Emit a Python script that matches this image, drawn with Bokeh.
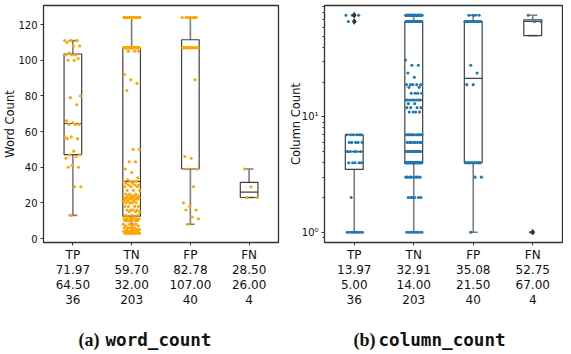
import numpy as np
from bokeh.plotting import figure
from bokeh.layouts import row, column
from bokeh.models import Range1d, FixedTicker
from bokeh.core.properties import value
from bokeh.embed import file_html
from bokeh.resources import INLINE

cats = ["TP", "TN", "FP", "FN"]

# ---------------- word_count data ----------------
word_tp = [13, 29, 29, 40, 40, 41, 45, 46, 47, 47, 49, 56, 56, 57, 57, 64, 64, 64,
           65, 66, 75, 79, 80, 100, 100, 101, 103, 103, 103, 104, 108, 108, 110,
           111, 111, 111]
word_tn = ([3] * 12 + [4] * 10 + [5] * 4 + [6] * 4 + [7] * 3 + [8] * 4 + [10] * 6 +
           [11] * 6 + [12] * 2 + [13] * 3 + [15] * 3 + [16] * 4 + [18] * 4 + [20] * 4 +
           [21] * 3 + [22] * 5 + [23] * 6 + [24] * 4 + [25] * 3 + [27] * 3 + [29] * 3 +
           [30] * 3 + [31] * 2 + [32] * 4 + [33, 34, 37, 39, 43, 43, 50, 50] +
           [83, 87, 89, 92] + [105] * 3 + [107] * 44 + [124] * 39)
word_fp = [8, 11, 12, 16, 16, 18, 20, 29, 39, 39, 45, 46, 89] + [107] * 20 + [124] * 7
word_fn = [23, 23, 29, 39]

word_q1 = [47, 12.5, 39, 23]
word_med = [64.5, 32, 107, 26]
word_q3 = [103.5, 107, 111.5, 31.5]
word_lo = [13, 3, 8, 23]
word_hi = [111, 124, 124, 39]
word_mean_txt = ["71.97", "59.70", "82.78", "28.50"]
word_median_txt = ["64.50", "32.00", "107.00", "26.00"]
word_n_txt = ["36", "203", "40", "4"]

# ---------------- column_count data ----------------
col_tp = [1] * 8 + [2] + [4] * 5 + [5] * 6 + [6] * 5 + [7] * 6 + [67] * 2 + [76] * 3
col_tn = ([1] * 8 + [2] * 6 + [3] * 8 + [4] * 35 + [5] * 14 + [6] * 8 + [7] * 12 +
          [11] * 4 + [12] * 4 + [13] * 2 + [14] * 8 + [16] * 4 + [18] * 2 + [19] * 5 +
          [22, 24, 28, 28, 31] + [67] * 28 + [76] * 50)
col_fp = [1, 3, 3] + [4] * 15 + [19, 19, 24, 28] + [67] * 14 + [76] * 4
col_fn = [1, 67, 67, 76]

col_q1 = [3.5, 4, 4, 50.5]
col_med = [5, 14, 21.5, 67]
col_q3 = [7, 67, 67, 69.25]
col_lo = [1, 1, 1, 50.5]
col_hi = [7, 76, 76, 76]
col_flier_cat = [0, 0, 3]
col_flier_val = [67, 76, 1]
col_mean_txt = ["13.97", "32.91", "35.08", "52.75"]
col_median_txt = ["5.00", "14.00", "21.50", "67.00"]
col_n_txt = ["36", "203", "40", "4"]

caption_tags = ["(a)", "(b)"]
caption_names = ["word_count", "column_count"]

BOX_LINE = "#404040"
WHISK = "#7d7d7d"
FONT = "DejaVu Sans"


def offsets(n, width=0.14):
    k = np.arange(n)
    return width * (2 * ((k * 0.6180339887 + 0.37) % 1.0) - 1)


def panel(groups, q1, med, q3, lo, hi, color, ylabel, log, mean_txt, med_txt, n_txt,
          width, border_left, border_right, label_standoff, fliers=None):
    kw = dict(width=width, height=321, output_backend="svg", toolbar_location=None,
              x_range=Range1d(-0.5, 3.5), min_border_left=border_left,
              min_border_right=border_right, min_border_top=5, min_border_bottom=79)
    if log:
        kw["y_axis_type"] = "log"
        kw["y_range"] = Range1d(0.814, 92.2)
    else:
        kw["y_range"] = Range1d(-2.24, 130.7)
    p = figure(**kw)
    p.xgrid.visible = False
    p.ygrid.visible = False
    p.outline_line_color = "#333333"
    p.outline_line_width = 1.3
    p.background_fill_color = "white"

    xs = np.arange(4)
    half = 0.15
    cap = 0.075
    # whiskers
    p.segment(x0=xs, x1=xs, y0=lo, y1=q1, line_color=WHISK, line_width=1.6)
    p.segment(x0=xs, x1=xs, y0=q3, y1=hi, line_color=WHISK, line_width=1.6)
    p.segment(x0=xs - cap, x1=xs + cap, y0=lo, y1=lo, line_color=WHISK, line_width=1.6)
    p.segment(x0=xs - cap, x1=xs + cap, y0=hi, y1=hi, line_color=WHISK, line_width=1.6)
    # boxes
    p.quad(left=xs - half, right=xs + half, bottom=q1, top=q3, fill_alpha=0,
           line_color=BOX_LINE, line_width=1.2)
    p.segment(x0=xs - half, x1=xs + half, y0=med, y1=med, line_color=BOX_LINE,
              line_width=1.2)
    # points
    for i, vals in enumerate(groups):
        v = np.array(vals, dtype=float)
        x = i + offsets(len(v))
        p.scatter(x=x, y=v, size=3.1, fill_color=color, line_color=None)
    if fliers is not None:
        fc, fv = fliers
        p.scatter(x=fc, y=fv, marker="diamond", size=5.5, fill_color="#333333",
                  line_color="#333333")

    # axes
    xa = p.xaxis[0]
    xa.ticker = FixedTicker(ticks=[0, 1, 2, 3])
    xa.major_label_overrides = {i: f"{cats[i]}\n{mean_txt[i]}\n{med_txt[i]}\n{n_txt[i]}"
                                for i in range(4)}
    xa.major_label_text_font = FONT
    xa.major_label_text_font_size = "12px"
    xa.major_label_text_color = "#111111"
    xa.major_label_text_line_height = 1.08
    xa.major_label_standoff = 2
    xa.axis_line_color = None
    xa.major_tick_out = 3
    xa.major_tick_in = 0
    xa.major_tick_line_color = "#333333"
    xa.minor_tick_line_color = None

    ya = p.yaxis[0]
    if log:
        ya.ticker = FixedTicker(ticks=[1, 10],
                                minor_ticks=[0.9, 2, 3, 4, 5, 6, 7, 8, 9,
                                             20, 30, 40, 50, 60, 70, 80, 90])
        ya.major_label_overrides = {1: "10\u2070", 10: "10\u00b9"}
        ya.minor_tick_out = 2
        ya.minor_tick_in = 0
        ya.minor_tick_line_color = "#333333"
    else:
        ya.ticker = FixedTicker(ticks=[0, 20, 40, 60, 80, 100, 120])
        ya.minor_tick_line_color = None
    ya.axis_label = ylabel
    ya.axis_label_text_font = FONT
    ya.axis_label_text_font_style = "normal"
    ya.axis_label_text_font_size = "11.5px"
    ya.axis_label_text_color = "#111111"
    ya.axis_label_standoff = label_standoff
    ya.major_label_text_font = FONT
    ya.major_label_text_font_size = "10px"
    ya.major_label_text_color = "#111111"
    ya.major_label_standoff = 3
    ya.axis_line_color = None
    ya.major_tick_out = 3
    ya.major_tick_in = 0
    ya.major_tick_line_color = "#333333"
    return p


p1 = panel([word_tp, word_tn, word_fp, word_fn], word_q1, word_med, word_q3, word_lo,
           word_hi, "#FFA500", "Word Count", False, word_mean_txt, word_median_txt,
           word_n_txt, 282, 39, 4, -2)
p2 = panel([col_tp, col_tn, col_fp, col_fn], col_q1, col_med, col_q3, col_lo, col_hi,
           "#1f77b4", "Column Count", True, col_mean_txt, col_median_txt, col_n_txt,
           281, 42, 1, -4, fliers=(col_flier_cat, col_flier_val))

# caption strip: x in strip pixels, y in strip pixels (bottom = 0)
cap = figure(width=563, height=32, output_backend="svg", toolbar_location=None,
             x_range=Range1d(8, 571), y_range=Range1d(0, 32), min_border=0,
             x_axis_location=None, y_axis_location=None)
cap.outline_line_color = None
cap.xgrid.visible = False
cap.ygrid.visible = False
cap.text(x=[86, 361], y=[14, 14], text=caption_tags,
         text_font=value("Liberation Serif"), text_font_style="bold",
         text_font_size="18px", text_baseline="middle", text_color="#111111")
cap.text(x=[113, 386], y=[14, 14], text=caption_names,
         text_font=value("DejaVu Sans Mono"), text_font_style="bold",
         text_font_size="17.6px", text_baseline="middle", text_color="#111111")

layout = column(row(p1, p2), cap)
open("out.html", "w").write(file_html(layout, INLINE))
